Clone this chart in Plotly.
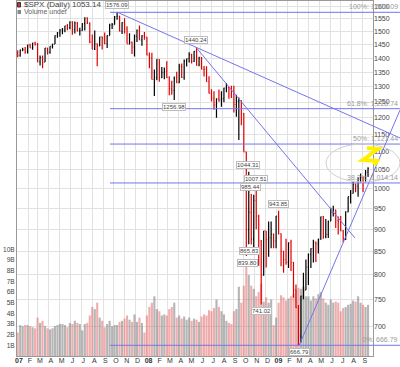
import math
import pandas as pd
import plotly.graph_objects as go

# ---------------- DATA (weekly OHLC) ----------------
week_ending = pd.date_range("2007-01-05", periods=142, freq="W-FRI")

open_2007 = [1418,1409,1430,1431,1423,1449,1438,1456,1451,1387,1402,1386,1437,1421,1443,1452,1484,1494,1505,1505,
             1522,1515,1536,1507,1533,1502,1503,1531,1553,1534,1459,1433,1453,1445,1479,1474,1454,1484,1525,1527,
             1557,1561,1501,1535,1510,1453,1458,1441,1481,1504,1468,1484]
high_2007 = [1429,1431,1438,1441,1449,1453,1457,1461,1456,1410,1410,1437,1438,1444,1453,1484,1498,1510,1513,1522,
             1529,1540,1540,1539,1537,1514,1532,1556,1556,1535,1488,1504,1455,1480,1481,1496,1485,1530,1533,1561,
             1576.09,1562,1536,1552,1520,1493,1462,1488,1508,1523,1485,1498]
low_2007 = [1403,1405,1425,1416,1417,1438,1431,1447,1386,1374,1364,1386,1413,1416,1435,1452,1476,1480,1489,1497,
            1505,1509,1487,1492,1500,1484,1503,1504,1529,1455,1433,1430,1371,1445,1432,1451,1437,1484,1510,1527,
            1546,1500,1490,1492,1453,1450,1415,1406,1460,1467,1446,1468]
close_2007 = [1409,1430,1431,1423,1449,1438,1456,1451,1387,1402,1386,1437,1421,1443,1452,1484,1494,1505,1505,1522,
              1515,1536,1507,1533,1502,1503,1531,1553,1534,1459,1433,1453,1445,1479,1474,1454,1484,1525,1527,1557,
              1561,1501,1535,1510,1453,1458,1441,1481,1504,1468,1484,1478]

open_2008 = [1478,1411,1401,1325,1331,1396,1331,1349,1353,1331,1294,1288,1330,1316,1370,1332,1390,1398,1414,1388,
             1425,1375,1400,1361,1360,1318,1278,1263,1240,1260,1257,1261,1296,1298,1292,1283,1242,1252,1255,1213,
             1099,899,940,877,969,931,873,800,896,876,880,888]
high_2008 = [1479,1421,1420,1360,1396,1396,1368,1367,1389,1336,1321,1335,1352,1380,1381,1395,1398,1422,1416,1426,
             1440.24,1405,1404,1372,1371,1336,1292,1285,1262,1291,1285,1297,1313,1300,1304,1304,1274,1265,1256,1214,
             1099,1044.31,985.44,984,1007.51,934,875,896,896,918,918,890]
low_2008 = [1411,1364,1325,1270,1322,1317,1330,1326,1330,1272,1274,1256.98,1312,1312,1330,1324,1370,1384,1381,1386,
            1373,1371,1360,1335,1317,1278,1252,1225,1200.44,1251,1235,1249,1282,1261,1263,1217,1203,1133,1177,1099,
            839.80,865.83,865,845,900,819,741.02,798,815,838,857,857]
close_2008 = [1411,1401,1325,1331,1396,1331,1349,1353,1331,1294,1288,1330,1316,1370,1332,1390,1398,1414,1388,1425,
              1375,1400,1361,1360,1318,1278,1263,1240,1260,1257,1261,1296,1298,1292,1283,1242,1252,1255,1213,1099,
              899,940,877,969,931,873,800,896,876,880,888,873]

open_2009 = [873,931,890,850,832,826,869,826,770,735,683,757,769,816,843,856,870,866,877,929,
             883,888,919,940,946,921,918,896,879,941,979,987,1010,1005,1026,1029,1016,1043]
high_2009 = [931,943.85,890,851,878,870,876,827,780,740,758,804,832,845,857,876,872,878,930,931,
             924,920,951,956,946,930,931,898,943,979,996,1018,1013,1029,1039,1031,1049,1056]
low_2009 = [857,888,818,804,821,814,808,754,734,666.79,672,751,769,779,814,826,827,845,876,878,
            879,880,919,930,903,888,896,869.32,875,940,962,987,990,979,1015,991,1016,1030]
close_2009 = [931,890,850,832,826,869,826,770,735,683,757,769,816,843,856,870,866,877,929,883,
              888,919,940,946,921,918,896,879,941,979,987,1010,1005,1026,1029,1016,1043,1053.14]

# average daily volume of each week, in billions
volume_2007 = [2.2,2.9,2.8,2.9, 2.9,2.8,2.7,2.6, 3.6,3.1,3.3,2.8,2.6, 2.5,2.6,2.8,2.9, 3.0,3.0,2.9,2.7,
               3.1,3.0,3.3,3.1,3.0, 2.4,3.0,3.1,3.8, 4.6,4.4,5.0,3.6,3.3, 2.7,3.0,3.3,2.8, 2.9,2.9,3.2,3.3,
               3.5,3.8,3.4,3.2,3.9, 3.2,3.6,3.1,2.2]
volume_2008 = [3.8,4.6,5.0,5.6, 4.4,4.2,3.8,3.9,3.8, 4.4,4.6,5.0,3.6, 3.8,3.5,3.7,3.4, 3.6,3.3,3.5,3.4,3.2,
               3.7,3.9,3.8,4.3, 4.2,4.5,5.3,4.6, 4.2,3.9,3.3,3.1,3.0, 4.2,4.4,6.5,5.0, 6.6,8.8,7.6,6.6,6.3,
               5.6,6.0,6.8,5.1, 5.5,5.0,5.3,2.9]
volume_2009 = [3.6,5.0,5.7,5.5,5.2, 5.4,5.6,5.8,6.2, 6.4,6.3,6.5,5.6, 5.6,5.2,5.6,5.4, 5.8,6.0,5.4,5.0,4.8,
               5.3,5.0,5.1,5.0, 4.2,4.5,4.6,4.8,4.9, 5.2,5.1,5.6,5.0, 4.8,4.6,4.8]

# labelled pivots: date, price, position (1 above / -1 below)
pivot_dates = ["2007-10-11", "2008-05-19", "2008-03-17", "2008-10-14", "2008-11-04", "2008-10-20",
               "2009-01-06", "2008-10-16", "2008-10-10", "2008-11-21", "2009-03-06"]
pivot_values = [1576.09, 1440.24, 1256.98, 1044.31, 1007.51, 985.44, 943.85, 865.83, 839.80, 741.02, 666.79]
pivot_side = [1, 1, -1, 1, 1, 1, 1, -1, -1, -1, -1]

# Fibonacci retracement (Oct-2007 high to Mar-2009 low)
fib_pcts = ["100%", "61.8%", "50%", "38.2%", "0%"]
fib_levels = [1576.09, 1228.74, 1121.44, 1014.14, 666.79]
fib_start = "2007-09-20"

# trend lines: (start date, start price), (second pivot date, price), end ("edge" = right edge of image)
trendlines = [
    (("2007-10-11", 1576.09), ("2008-05-19", 1440.24), "edge"),
    (("2008-05-19", 1440.24), ("2008-08-11", 1313.15), "2009-08-10"),
    (("2009-03-06", 666.79), ("2009-07-08", 869.32), "edge"),
]

price_ticks = list(range(700, 1601, 50))
volume_ticks = [1, 2, 3, 4, 5, 6, 7, 8, 9, 10]
month_letters = ["J", "F", "M", "A", "M", "J", "J", "A", "S", "O", "N", "D"]
year_labels = {2007: "07", 2008: "08", 2009: "09"}

# ---------------- LAYOUT CONSTANTS ----------------
W, H = 400, 367
ML, MR, MT, MB = 17, 27, 1, 11
PW, PH = W - ML - MR, H - MT - MB
X_START, X_END = pd.Timestamp("2007-01-01"), pd.Timestamp("2009-09-30")
PRICE_LO, PRICE_HI = 648.6, 1622.8
VOL_MAX = 33.3
FONT = "Liberation Sans, Arial, sans-serif"
BLUE = "#7474ee"

opens = open_2007 + open_2008 + open_2009
highs = high_2007 + high_2008 + high_2009
lows = low_2007 + low_2008 + low_2009
closes = close_2007 + close_2008 + close_2009
volumes = volume_2007 + volume_2008 + volume_2009
bar_x = week_ending - pd.Timedelta(days=2)


def date_to_paper(d):
    d = pd.Timestamp(d)
    return (d - X_START) / (X_END - X_START)


def px_x(px):
    return (px - ML) / PW


def px_y(py):
    return (MT + PH - py) / PH


EDGE = px_x(W)

fig = go.Figure()

vol_colors = ["rgba(120,120,120,0.55)" if c >= o else "rgba(228,105,105,0.55)" for o, c in zip(opens, closes)]
fig.add_trace(go.Bar(x=bar_x, y=[v * 1e9 for v in volumes], marker=dict(color=vol_colors, line=dict(width=0)),
                     width=6 * 86400000, yaxis="y", hoverinfo="skip", showlegend=False))

fig.add_trace(go.Ohlc(x=bar_x, open=opens, high=highs, low=lows, close=closes, yaxis="y2",
                      increasing=dict(line=dict(color="#000000", width=1.2)),
                      decreasing=dict(line=dict(color="#e00000", width=1.2)),
                      tickwidth=0.3, hoverinfo="skip", showlegend=False))

shapes = []
annotations = []

# Fibonacci lines and labels
for pct, lvl in zip(fib_pcts, fib_levels):
    shapes.append(dict(type="line", xref="paper", yref="y2", x0=date_to_paper(fib_start), x1=EDGE,
                       y0=lvl, y1=lvl, line=dict(color=BLUE, width=1)))
    annotations.append(dict(xref="paper", yref="y2", x=EDGE, y=math.log10(lvl), xanchor="right",
                            yanchor="bottom", yshift=0, showarrow=False,
                            text=f"{pct}: {lvl:,.2f}", font=dict(size=7, color="#9a9a9a", family=FONT)))

# trend lines
for (d1, p1), (d2, p2), end in trendlines:
    x1, x2 = date_to_paper(d1), date_to_paper(d2)
    xe = EDGE if end == "edge" else date_to_paper(end)
    slope = (math.log10(p2) - math.log10(p1)) / (x2 - x1)
    pe = 10 ** (math.log10(p1) + slope * (xe - x1))
    shapes.append(dict(type="line", xref="paper", yref="y2", x0=x1, y0=p1, x1=xe, y1=pe,
                       line=dict(color=BLUE, width=1)))

# pivot labels
for d, v, s in zip(pivot_dates, pivot_values, pivot_side):
    annotations.append(dict(xref="x", yref="y2", x=d, y=math.log10(v), yshift=7 * s, showarrow=False,
                            text=f"{v:.2f}", font=dict(size=6, color="#444", family=FONT),
                            bgcolor="white", bordercolor="#bdbdbd", borderwidth=1, borderpad=0))

# grey ellipse and yellow scribble (hand-drawn highlight)
shapes.append(dict(type="circle", xref="paper", yref="paper", x0=px_x(326), x1=px_x(400),
                   y0=px_y(182), y1=px_y(144), line=dict(color="#cfcfcf", width=1)))
scribble = [(367, 148), (378, 149), (372, 153), (366, 158), (363, 160), (377, 161), (374, 165)]
path = "M " + " L ".join(f"{px_x(a):.4f},{px_y(b):.4f}" for a, b in scribble)
shapes.append(dict(type="path", xref="paper", yref="paper", path=path,
                   line=dict(color="rgb(255,240,0)", width=4)))

# title / legend
shapes.append(dict(type="rect", xref="paper", yref="paper", x0=px_x(17.5), x1=px_x(20.5),
                   y0=px_y(7), y1=px_y(2.5), line=dict(color="#333", width=1), fillcolor="#cc3333"))
shapes.append(dict(type="rect", xref="paper", yref="paper", x0=px_x(17.5), x1=px_x(21),
                   y0=px_y(14), y1=px_y(10), line=dict(width=0), fillcolor="#888"))
annotations.append(dict(xref="paper", yref="paper", x=px_x(22), y=px_y(4.8), xanchor="left", yanchor="middle",
                        showarrow=False, text="$SPX (Daily) 1053.14", font=dict(size=8, color="#444", family=FONT)))
annotations.append(dict(xref="paper", yref="paper", x=px_x(22), y=px_y(12), xanchor="left", yanchor="middle",
                        showarrow=False, text="Volume undef", font=dict(size=7, color="#666", family=FONT)))

month_starts = pd.date_range("2007-01-01", "2009-09-01", freq="MS")
month_text = [f"<b>{year_labels[m.year]}</b>" if m.month == 1 else month_letters[m.month - 1] for m in month_starts]

fig.update_layout(
    width=W, height=H, margin=dict(l=ML, r=MR, t=MT, b=MB, pad=0, autoexpand=False),
    paper_bgcolor="white", plot_bgcolor="white", showlegend=False,
    font=dict(family=FONT, size=7, color="#333"),
    xaxis=dict(type="date", range=[X_START, X_END], tickvals=month_starts, ticktext=month_text,
               showgrid=True, gridcolor="#e2e2e2", gridwidth=1, showline=True, mirror=True, linecolor="#999",
               ticks="", tickfont=dict(size=7, color="#333"), ticklabelshift=2, ticklabelstandoff=-2,
               zeroline=False, automargin=False, rangeslider=dict(visible=False)),
    yaxis=dict(range=[0, VOL_MAX * 1e9], tickvals=[v * 1e9 for v in volume_ticks],
               ticktext=[f"{v}B" for v in volume_ticks], showgrid=False, zeroline=False, side="left",
               showline=True, mirror=True, linecolor="#999", ticks="", automargin=False,
               tickfont=dict(size=6.5, color="#444")),
    yaxis2=dict(type="log", overlaying="y", side="right",
                range=[math.log10(PRICE_LO), math.log10(PRICE_HI)], tickvals=price_ticks,
                ticktext=[str(t) for t in price_ticks], showgrid=True, gridcolor="#e2e2e2", zeroline=False,
                ticks="", automargin=False, tickfont=dict(size=7, color="#444")),
    shapes=shapes, annotations=annotations,
)

fig.write_html("out.html", config={"displayModeBar": False},
               post_script="document.body.style.margin='0';document.body.style.padding='0';")
